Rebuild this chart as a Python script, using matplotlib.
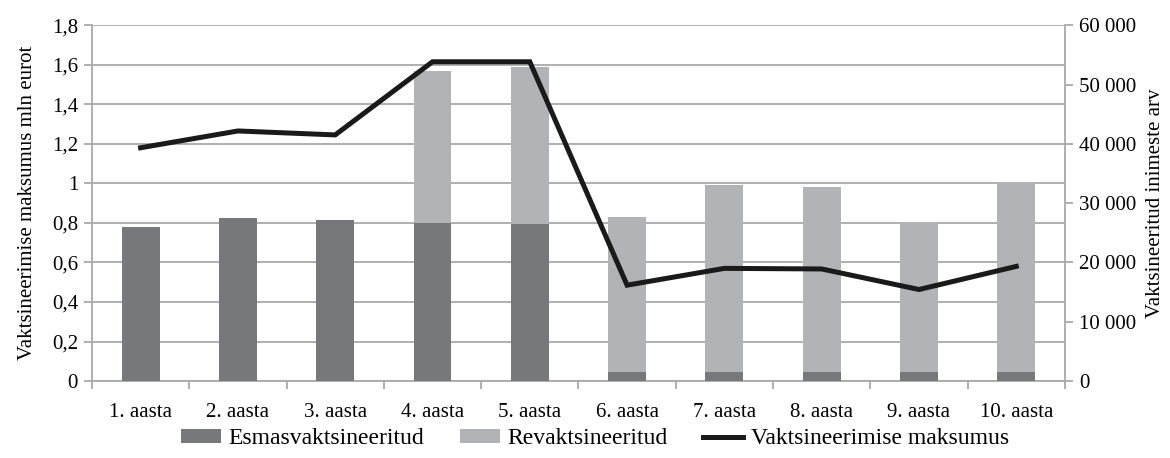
import numpy as np
import matplotlib
matplotlib.use('Agg')
import matplotlib.pyplot as plt
from matplotlib.ticker import FuncFormatter

# data
years = ['1. aasta', '2. aasta', '3. aasta', '4. aasta', '5. aasta',
         '6. aasta', '7. aasta', '8. aasta', '9. aasta', '10. aasta']
esmas = [26000, 27500, 27200, 26700, 26400, 1500, 1500, 1500, 1500, 1500]
revakts = [0, 0, 0, 25500, 26600, 26200, 31500, 31200, 25200, 32100]
maksumus = [1.18, 1.265, 1.245, 1.615, 1.615, 0.485, 0.57, 0.567, 0.463, 0.58]

plt.rcParams['font.family'] = ['Liberation Serif', 'DejaVu Serif']
plt.rcParams['font.size'] = 15

dark = '#77787c'
light = '#b2b3b6'
gridc = '#a9a9a9'


def left_fmt(v, p):
    if abs(v - round(v)) < 1e-9:
        return '%d' % round(v)
    return ('%.1f' % v).replace('.', ',')


fig = plt.figure(figsize=(11.7, 4.58), dpi=100)
ax = fig.add_axes([0.0786, 0.168, 0.8316, 0.777])
x = np.arange(len(years))

# left axis: cost scale + gridlines
ax.set_ylim(0, 1.8)
ax.set_yticks(np.arange(0, 1.81, 0.2))
ax.yaxis.set_major_formatter(FuncFormatter(left_fmt))
ax.yaxis.grid(True, color=gridc, lw=1.3)
ax.set_axisbelow(True)
ax.set_xlim(-0.5, len(years) - 0.5)
ax.set_xticks(np.arange(-0.5, len(years), 1.0))
ax.set_xticklabels([])
ax.set_xticks(x, minor=True)
ax.set_xticklabels(years, minor=True)
ax.tick_params(axis='x', which='minor', length=0, pad=16)
ax.tick_params(axis='x', which='major', length=6, color=gridc, width=1.3)
ax.tick_params(axis='y', length=6, color=gridc, width=1.3, pad=4)
ax.set_ylabel('Vaktsineerimise maksumus mln eurot', labelpad=11)
for s in ['top', 'right']:
    ax.spines[s].set_visible(False)
for s in ['left', 'bottom']:
    ax.spines[s].set_color(gridc)
    ax.spines[s].set_linewidth(1.3)

# right axis: people counts as stacked bars
ax2 = ax.twinx()
w = 0.39
b1 = ax2.bar(x, esmas, w, color=dark, label='Esmasvaktsineeritud')
b2 = ax2.bar(x, revakts, w, bottom=esmas, color=light, label='Revaktsineeritud')
ax2.set_ylim(0, 60000)
ax2.set_yticks(np.arange(0, 60001, 10000))
ax2.yaxis.set_major_formatter(FuncFormatter(lambda v, p: '{:,}'.format(int(v)).replace(',', ' ')))
ax2.tick_params(axis='y', length=6, color=gridc, width=1.3, pad=4)
ax2.set_ylabel('Vaktsineeritud inimeste arv', labelpad=7)
for s in ['top', 'left', 'bottom']:
    ax2.spines[s].set_visible(False)
ax2.spines['right'].set_color(gridc)
ax2.spines['right'].set_linewidth(1.3)

# third layer for the cost line, on the left scale, drawn above bars
ax3 = ax.twinx()
ax3.set_ylim(ax.get_ylim())
ax3.axis('off')
ln, = ax3.plot(x, maksumus, color='#1a1a1a', lw=3.6, solid_joinstyle='miter',
               label='Vaktsineerimise maksumus')

fig.legend([b1, b2, ln], ['Esmasvaktsineeritud', 'Revaktsineeritud', 'Vaktsineerimise maksumus'],
           loc='center', bbox_to_anchor=(0.5085, 0.042), ncol=3, frameon=False, fontsize=17,
           handlelength=1.7, handleheight=0.5, handletextpad=0.33, columnspacing=1.5)

fig.savefig('out.png', dpi=100)
